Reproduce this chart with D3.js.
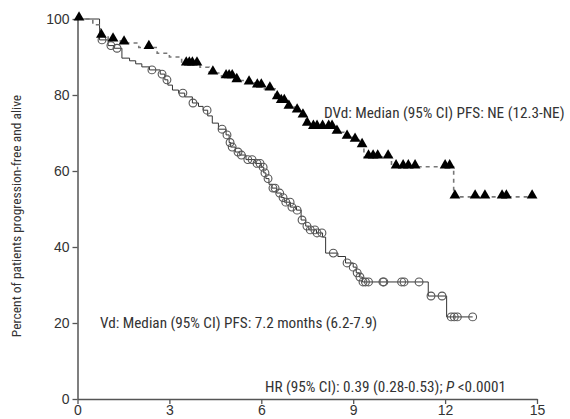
<!DOCTYPE html>
<html>
<head>
<meta charset="utf-8">
<script src="https://cdn.jsdelivr.net/npm/d3@7"></script>
<style>
  html, body { margin: 0; padding: 0; background: #fff; }
  svg { display: block; }
  text { font-family: "Liberation Sans Narrow", "Arial Narrow", "Roboto Condensed", sans-serif; fill: #333; }
</style>
</head>
<body>
<svg id="chart" width="570" height="419"></svg>
<script>
// Months on the x axis, percent progression-free and alive on the y axis
const xTicks = [0, 3, 6, 9, 12, 15];
const yTicks = [0, 20, 40, 60, 80, 100];

// DVd arm: [month, percent after the drop]
const dvdSteps = [
  [0.5, 98.5], [0.75, 95.5], [1.0, 94.5], [1.4, 93.7], [2.0, 92.5], [2.6, 91], [3.0, 90],
  [3.4, 88.2], [4.0, 87.3], [4.3, 85.8], [4.7, 84.8], [5.1, 83.8], [5.5, 83.2], [5.8, 82.4],
  [6.1, 81.6], [6.45, 79.3], [6.6, 78.3], [6.85, 76.8], [7.1, 75.8], [7.3, 74.5], [7.45, 72.3],
  [7.6, 71.5], [8.4, 70.2], [8.7, 68.9], [9.0, 68.1], [9.25, 66.7], [9.35, 63.7],
  [10.25, 61.1], [12.28, 53.2]
];
const dvdCensored = [
  0.05, 0.78, 1.16, 1.52, 2.33, 3.55, 3.65, 3.75, 3.9, 4.42, 4.85, 4.95, 5.05, 5.2,
  5.6, 5.87, 6.0, 6.28, 6.52, 6.65, 6.75, 6.9, 7.17, 7.36, 7.5, 7.7, 7.82, 8.0, 8.2,
  8.31, 8.47, 8.8, 9.06, 9.29, 9.5, 9.65, 9.8, 10.14, 10.4, 10.63, 10.8, 11.02,
  12.0, 12.15, 12.32, 12.98, 13.3, 13.86, 14.0, 14.84
];
const dvdEnd = 14.84;

// Vd arm: [month, percent after the drop]
const vdSteps = [
  [0.72, 94.5], [1.0, 93], [1.2, 92.3], [1.45, 89.7], [1.7, 89], [1.9, 88.2], [2.1, 87.4],
  [2.35, 86.6], [2.7, 85.5], [2.85, 84], [2.95, 82.6], [3.1, 81.3], [3.3, 80.5], [3.5, 79.5],
  [3.75, 77.9], [3.95, 77], [4.1, 76], [4.25, 74.5], [4.4, 72.6], [4.6, 71], [4.85, 69.5],
  [4.95, 67.5], [5.0, 66.3], [5.15, 65], [5.3, 64.2], [5.5, 63], [5.8, 62], [6.0, 61],
  [6.08, 59.5], [6.15, 58], [6.25, 56.5], [6.35, 55.5], [6.5, 54.2], [6.65, 53], [6.75, 51.8],
  [6.95, 50.5], [7.15, 49.7], [7.3, 47.1], [7.45, 45.5], [7.55, 44.5], [7.8, 43.7], [8.0, 42.6],
  [8.1, 38.4], [8.5, 37.5], [8.75, 35.8], [9.0, 34.7], [9.1, 33.2], [9.2, 32.1], [9.3, 30.8],
  [11.45, 27.1], [12.05, 21.6]
];
const vdCensored = [
  0.8, 1.09, 1.29, 2.43, 2.76, 2.92, 3.44, 3.77, 4.23, 4.72, 4.88, 4.98, 5.05, 5.24,
  5.35, 5.56, 5.7, 5.86, 5.96, 6.06, 6.12, 6.22, 6.38, 6.45, 6.6, 6.71, 6.8, 6.94, 7.0,
  7.17, 7.33, 7.49, 7.6, 7.75, 7.82, 7.98, 8.35, 8.8, 9.0, 9.13, 9.22, 9.32, 9.4, 9.5,
  9.97, 10.0, 10.58, 10.66, 11.15, 11.54, 11.9, 12.2, 12.3, 12.4, 12.9
];
const vdEnd = 12.9;

const svg = d3.select("#chart");
const x = d3.scaleLinear().domain([0, 15]).range([77.5, 537]);
const y = d3.scaleLinear().domain([0, 100]).range([399, 19]);

// survival value at a given month (step function)
function survivalAt(steps, t) {
  let s = 100;
  for (const [ts, v] of steps) { if (ts <= t) s = v; else break; }
  return s;
}
function curvePoints(steps, end) {
  const pts = [[0, 100]].concat(steps);
  pts.push([end, steps[steps.length - 1][1]]);
  return pts;
}
const stepLine = d3.line().x(d => x(d[0])).y(d => y(d[1])).curve(d3.curveStepAfter);

// axes
const axisColor = "#555";
const yAxis = svg.append("g").attr("transform", `translate(${x(0)},0)`)
  .call(d3.axisLeft(y).tickValues(yTicks).tickSize(5).tickSizeOuter(0).tickPadding(3));
const xAxis = svg.append("g").attr("transform", `translate(0,${y(0)})`)
  .call(d3.axisBottom(x).tickValues(xTicks).tickSize(5).tickSizeOuter(0).tickPadding(1));
[yAxis, xAxis].forEach(g => {
  g.select(".domain").attr("stroke", axisColor).attr("stroke-width", 1.5);
  g.selectAll(".tick line").attr("stroke", axisColor).attr("stroke-width", 1.3);
  g.selectAll(".tick text").attr("fill", "#333").style("font-size", "14px")
    .style("font-family", '"Liberation Sans Narrow", "Arial Narrow", sans-serif');
});

// y-axis title
svg.append("text")
  .attr("transform", `translate(21,${(19 + 399) / 2 + 7}) rotate(-90)`)
  .attr("text-anchor", "middle")
  .style("font-size", "13.5px")
  .text("Percent of patients progression-free and alive");

// Vd curve: solid line with open circles
svg.append("path")
  .datum(curvePoints(vdSteps, vdEnd))
  .attr("d", stepLine)
  .attr("fill", "none").attr("stroke", "#333").attr("stroke-width", 1);
svg.append("g").selectAll("circle").data(vdCensored).join("circle")
  .attr("cx", d => x(d)).attr("cy", d => y(survivalAt(vdSteps, d)))
  .attr("r", 3.9).attr("fill", "none").attr("stroke", "#555").attr("stroke-width", 1.1);

// DVd curve: dashed line with filled triangles
svg.append("path")
  .datum(curvePoints(dvdSteps, dvdEnd))
  .attr("d", stepLine)
  .attr("fill", "none").attr("stroke", "#777").attr("stroke-width", 1.6)
  .attr("stroke-dasharray", "4,4");
const tri = d3.symbol().type(d3.symbolTriangle).size(50);
svg.append("g").selectAll("path").data(dvdCensored).join("path")
  .attr("d", tri)
  .attr("transform", d => `translate(${x(d)},${y(survivalAt(dvdSteps, d)) - 1.5})`)
  .attr("fill", "#000");

// annotations
svg.append("text").attr("x", 324).attr("y", 118).style("font-size", "15.2px")
  .text("DVd: Median (95% CI) PFS: NE (12.3-NE)");
svg.append("text").attr("x", 100).attr("y", 328).style("font-size", "15.2px")
  .text("Vd: Median (95% CI) PFS: 7.2 months (6.2-7.9)");
const hr = svg.append("text").attr("x", 265).attr("y", 392).style("font-size", "15.2px");
hr.append("tspan").text("HR (95% CI): 0.39 (0.28-0.53); ");
hr.append("tspan").style("font-style", "italic").text("P");
hr.append("tspan").text(" <0.0001");
</script>
</body>
</html>
